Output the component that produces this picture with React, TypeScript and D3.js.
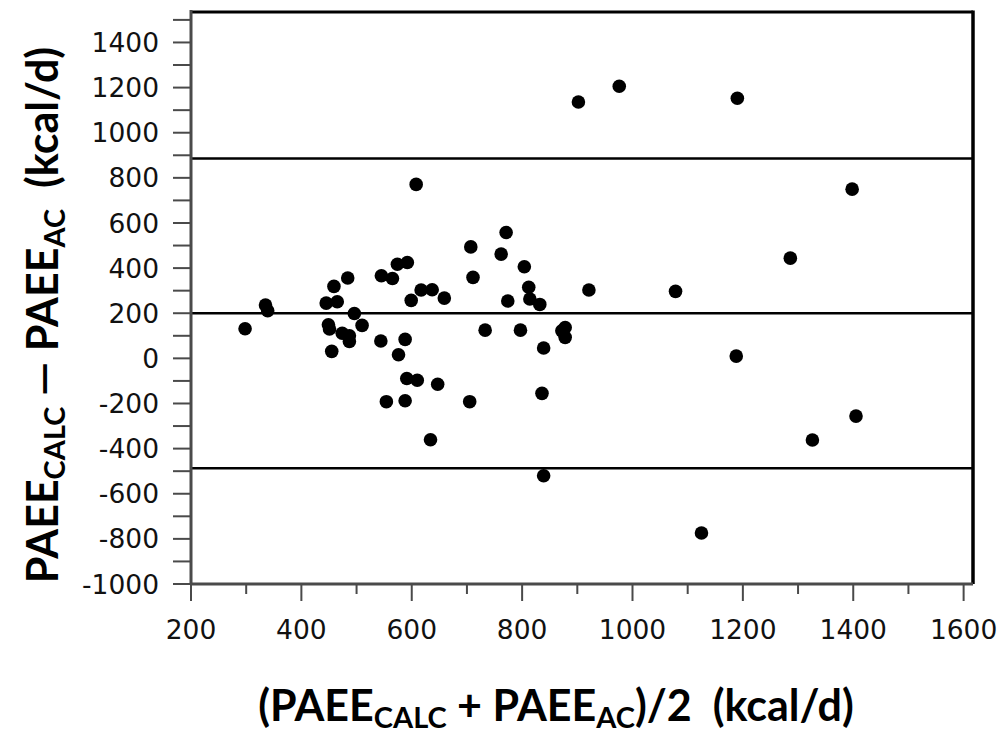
import React from "react";
import * as d3 from "d3";

const xMean = [608, 574, 592, 545, 565, 484, 459, 445, 465, 335, 339, 617, 637, 599, 659, 496, 298, 449, 451, 510, 474, 487, 487, 544, 588, 455, 576, 591, 610, 647, 554, 588, 634, 707, 771, 762, 711, 804, 812, 774, 814, 832, 921, 1078, 733, 797, 872, 878, 878, 839, 836, 705, 839, 902, 976, 1190, 1398, 1188, 1405, 1326, 1125, 1286];
const yDiff = [771, 417, 425, 366, 354, 356, 319, 245, 251, 236, 211, 303, 304, 257, 267, 199, 131, 149, 130, 146, 111, 100, 75, 77, 84, 31, 16, -89, -97, -115, -192, -188, -361, 494, 558, 462, 359, 406, 315, 254, 263, 239, 303, 297, 125, 125, 122, 137, 93, 46, -155, -192, -520, 1136, 1206, 1153, 750, 10, -256, -362, -774, 444];
const refLines = [886, 200, -487];
const xTicks = [200, 400, 600, 800, 1000, 1200, 1400, 1600];
const xMinor = [300, 500, 700, 900, 1100, 1300, 1500];
const yTicks = [-1000, -800, -600, -400, -200, 0, 200, 400, 600, 800, 1000, 1200, 1400];
const yMinor = [-900, -700, -500, -300, -100, 100, 300, 500, 700, 900, 1100, 1300, 1500];

export default function App() {
  const x = d3.scaleLinear().domain([200, 1617]).range([191, 973]);
  const y = d3.scaleLinear().domain([-1000, 1535]).range([584, 12]);
  const x0 = x(200), x1 = x(1617), yb = y(-1000), yt = y(1535);
  const axisColor = "#4a4a4a";
  const tickFont = "'DejaVu Sans', Verdana, sans-serif";
  const titleFont = "Lato, 'Open Sans', sans-serif";
  return (
    <svg width={1004} height={736} style={{ position: "absolute", left: 0, top: 0, background: "#fff" }}>
      {/* frame */}
      <line x1={x0} x2={x1} y1={yt} y2={yt} stroke="#000" strokeWidth={3} />
      <line x1={x1} x2={x1} y1={yt - 1.5} y2={yb} stroke="#000" strokeWidth={3.5} />
      {/* reference lines */}
      {refLines.map((v, i) => (
        <line key={"r" + i} x1={x0} x2={x1} y1={y(v)} y2={y(v)} stroke="#000" strokeWidth={2.5} />
      ))}
      {/* y axis */}
      <line x1={x0} x2={x0} y1={yt - 2} y2={yb} stroke={axisColor} strokeWidth={3} />
      {yTicks.concat(yMinor).map((v) => (
        <line key={"yt" + v} x1={x0 - 18} x2={x0} y1={y(v)} y2={y(v)} stroke={axisColor} strokeWidth={2} />
      ))}
      {yTicks.map((v) => (
        <text key={"yl" + v} x={159} y={y(v)} dy="0.36em" textAnchor="end" fontFamily={tickFont} fontSize={26.5} fill="#111">
          {v}
        </text>
      ))}
      {/* x axis */}
      <line x1={x0} x2={x1} y1={yb} y2={yb} stroke={axisColor} strokeWidth={3} />
      {xTicks.map((v) => (
        <line key={"xt" + v} x1={x(v)} x2={x(v)} y1={yb} y2={yb + 17} stroke={axisColor} strokeWidth={2} />
      ))}
      {xMinor.map((v) => (
        <line key={"xm" + v} x1={x(v)} x2={x(v)} y1={yb} y2={yb + 10} stroke={axisColor} strokeWidth={2} />
      ))}
      {xTicks.map((v) => (
        <text key={"xl" + v} x={x(v)} y={639} textAnchor="middle" fontFamily={tickFont} fontSize={26.5} fill="#111">
          {v}
        </text>
      ))}
      {/* points */}
      {xMean.map((v, i) => (
        <circle key={"p" + i} cx={x(v)} cy={y(yDiff[i])} r={6.8} fill="#000" />
      ))}
      {/* x title */}
      <text x={556} y={721} textAnchor="middle" fontFamily={titleFont} fontWeight="bold" fontSize={43} fill="#000" style={{ whiteSpace: "pre" }}>
        <tspan>(PAEE</tspan>
        <tspan fontSize={29} dy={7}>CALC</tspan>
        <tspan dy={-7}> + PAEE</tspan>
        <tspan fontSize={29} dy={7}>AC</tspan>
        <tspan dy={-7}>)/2  (kcal/d)</tspan>
      </text>
      {/* y title */}
      <text transform="translate(58,315) rotate(-90)" textAnchor="middle" fontFamily={titleFont} fontWeight="bold" fontSize={43} fill="#000" style={{ whiteSpace: "pre" }}>
        <tspan>PAEE</tspan>
        <tspan fontSize={29} dy={7}>CALC</tspan>
        <tspan dy={-7}> — PAEE</tspan>
        <tspan fontSize={29} dy={7}>AC</tspan>
        <tspan dy={-7}>  (kcal/d)</tspan>
      </text>
    </svg>
  );
}
